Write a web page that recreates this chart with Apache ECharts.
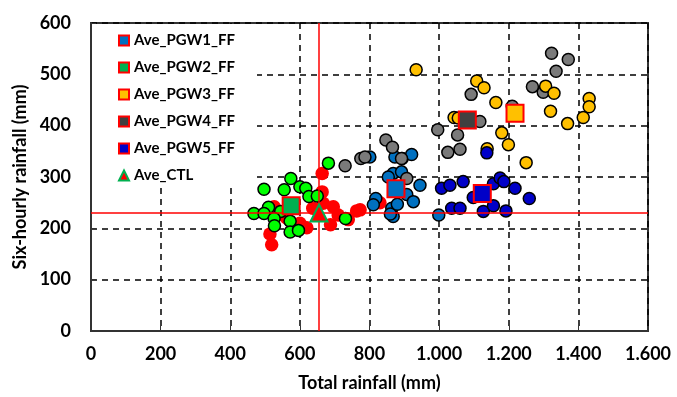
<!DOCTYPE html>
<html>
<head>
<meta charset="utf-8">
<title>Rainfall scatter</title>
<script src="https://cdn.jsdelivr.net/npm/echarts@6/dist/echarts.min.js"></script>
<style>
  html, body { margin: 0; padding: 0; background: #fff; }
  #chart { width: 677px; height: 397px; }
</style>
</head>
<body>
<div id="chart"></div>
<script>
// [total rainfall (mm), six-hourly rainfall (mm)]
const ctlPoints = [
  [519, 168], [514, 189], [526, 242], [545, 228], [562, 220], [600, 210],
  [620, 201], [664, 307], [664, 271], [637, 239], [667, 249], [696, 242],
  [710, 226], [688, 207], [739, 217], [763, 234], [773, 236], [830, 250]
];
const pgw1Points = [
  [801, 339], [873, 339], [894, 336], [921, 344], [868, 307], [892, 310],
  [854, 300], [945, 284], [907, 266], [926, 252], [818, 258], [811, 246],
  [864, 239], [868, 223], [860, 228], [999, 226], [880, 247]
];
const pgw2Points = [
  [682, 327], [574, 297], [497, 276], [555, 275], [600, 281], [617, 278],
  [626, 262], [650, 263], [510, 241], [468, 229], [497, 229], [545, 233],
  [526, 219], [572, 214], [527, 205], [572, 193], [596, 196], [731, 219]
];
const pgw3Points = [
  [934, 509], [1108, 487], [1129, 474], [1163, 445], [1043, 416], [1055, 415],
  [1180, 386], [1199, 363], [1138, 355], [1250, 328], [1306, 477], [1330, 463],
  [1431, 453], [1431, 437], [1414, 416], [1369, 404], [1320, 428]
];
const pgw4Points = [
  [730, 322], [775, 336], [787, 339], [847, 372], [866, 358], [892, 336],
  [907, 297], [996, 392], [1053, 382], [1025, 348], [1060, 354], [1092, 461],
  [1117, 408], [1210, 438], [1268, 476], [1299, 465], [1323, 541], [1371, 529],
  [1336, 506]
];
const pgw5Points = [
  [1007, 278], [1031, 284], [1069, 291], [1036, 239], [1060, 239], [1127, 233],
  [1156, 244], [1192, 234], [1098, 260], [1156, 287], [1175, 298], [1186, 291],
  [1218, 278], [1259, 258], [1137, 347]
];

const averageNames = ['Ave_PGW1_FF', 'Ave_PGW2_FF', 'Ave_PGW3_FF', 'Ave_PGW4_FF', 'Ave_PGW5_FF', 'Ave_CTL'];
const averageValues = [[876, 277], [575, 244], [1218, 424], [1081, 411], [1124, 268], [655, 230]];

const xTicks = [0, 200, 400, 600, 800, 1000, 1200, 1400, 1600];
const yTicks = [0, 100, 200, 300, 400, 500, 600];

const FONT = 'Lato';

function formatThousands(value) {
  if (value < 1000) return String(value);
  return Math.floor(value / 1000) + '.' + String(value % 1000).padStart(3, '0');
}

function pointSeries(name, data, color, border) {
  return {
    name,
    type: 'scatter',
    data,
    symbol: 'circle',
    symbolSize: border ? 12 : 13.5,
    itemStyle: {
      color,
      borderColor: border ? '#000' : color,
      borderWidth: border ? 1.5 : 0,
      opacity: 1,
    },
    emphasis: { disabled: true },
  };
}

function averageSeries(index, color, symbol, borderColor) {
  return {
    name: averageNames[index],
    type: 'scatter',
    data: [averageValues[index]],
    symbol,
    symbolSize: 17,
    z: 5,
    itemStyle: {
      color,
      borderColor,
      borderWidth: 2,
      opacity: 1,
    },
    emphasis: { disabled: true },
  };
}

function getChartOption() {
  const ctl = pointSeries('CTL', ctlPoints, '#ff0000', false);
  // red reference lines through the CTL average
  ctl.markLine = {
    silent: true,
    symbol: 'none',
    label: { show: false },
    lineStyle: { color: '#ff0000', width: 1.5, type: 'solid' },
    data: [{ xAxis: averageValues[5][0] }, { yAxis: averageValues[5][1] }],
  };

  const series = [
    ctl,
    pointSeries('PGW2_FF', pgw2Points, '#00ff00', true),
    pointSeries('PGW1_FF', pgw1Points, '#0070c0', true),
    pointSeries('PGW4_FF', pgw4Points, '#7a7a7a', true),
    pointSeries('PGW3_FF', pgw3Points, '#ffc000', true),
    pointSeries('PGW5_FF', pgw5Points, '#0000c8', true),
    averageSeries(0, '#0070c0', 'rect', '#ff0000'),
    averageSeries(1, '#00b050', 'rect', '#ff0000'),
    averageSeries(2, '#ffc000', 'rect', '#ff0000'),
    averageSeries(3, '#404040', 'rect', '#ff0000'),
    averageSeries(4, '#0000c8', 'rect', '#ff0000'),
    averageSeries(5, '#ff0000', 'triangle', '#00b050'),
  ];

  const labelStyle = {
    color: '#000',
    fontFamily: FONT,
    fontWeight: 'bold',
    fontSize: 18,
  };

  return {
    animation: false,
    backgroundColor: '#fff',
    grid: {
      left: 91,
      right: 29,
      top: 23,
      bottom: 63,
      show: true,
      borderColor: '#333',
      borderWidth: 2,
    },
    legend: {
      data: averageNames,
      orient: 'vertical',
      left: 92,
      top: 24,
      padding: [9, 22, 3, 26],
      backgroundColor: '#fff',
      itemWidth: 10,
      itemHeight: 10,
      itemGap: 12,
      selectedMode: false,
      textStyle: {
        color: '#000',
        fontFamily: FONT,
        fontWeight: 'bold',
        fontSize: 15,
      },
    },
    xAxis: {
      type: 'value',
      min: xTicks[0],
      max: xTicks[xTicks.length - 1],
      interval: xTicks[1] - xTicks[0],
      name: 'Total rainfall (mm)',
      nameLocation: 'middle',
      nameGap: 43,
      nameTextStyle: { ...labelStyle },
      axisLine: { lineStyle: { color: '#333', width: 2 } },
      axisTick: { inside: true, length: 5, lineStyle: { color: '#333' } },
      axisLabel: { ...labelStyle, margin: 14, formatter: formatThousands },
      splitLine: {
        show: true,
        lineStyle: { color: '#000', width: 1.5, type: [6, 5] },
      },
    },
    yAxis: {
      type: 'value',
      min: yTicks[0],
      max: yTicks[yTicks.length - 1],
      interval: yTicks[1] - yTicks[0],
      name: 'Six-hourly rainfall (mm)',
      nameLocation: 'middle',
      nameGap: 52,
      nameTextStyle: { ...labelStyle },
      axisLine: { show: true, lineStyle: { color: '#333', width: 2 } },
      axisTick: { show: true, inside: true, length: 5, lineStyle: { color: '#333' } },
      axisLabel: { ...labelStyle, margin: 20 },
      splitLine: {
        show: true,
        lineStyle: { color: '#000', width: 1.5, type: [6, 5] },
      },
    },
    series,
  };
}

const chart = echarts.init(document.getElementById('chart'));
chart.setOption(getChartOption());
</script>
</body>
</html>
